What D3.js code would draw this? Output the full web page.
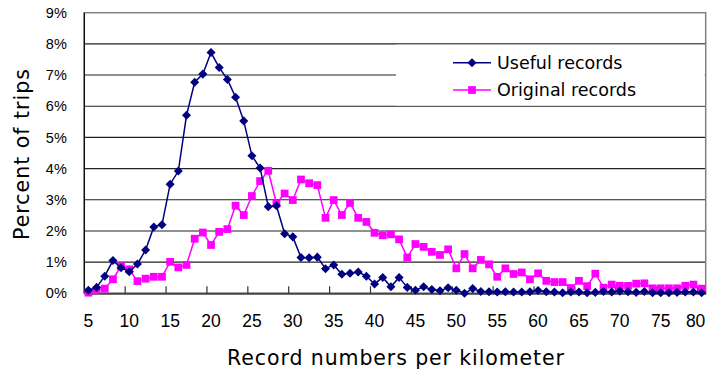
<!DOCTYPE html>
<html>
<head>
<meta charset="utf-8">
<script src="https://cdn.jsdelivr.net/npm/d3@7"></script>
<style>
  body { margin: 0; background: #fff; }
  svg { display: block; font-family: "DejaVu Sans", sans-serif; }
</style>
</head>
<body>
<div id="chart"></div>
<script>
// record numbers per km (categories)
var categories = [5,6,7,8,9,10,11,12,13,14,15,16,17,18,19,20,21,22,23,24,25,26,27,28,29,30,
  31,32,33,34,35,36,37,38,39,40,41,42,43,44,45,46,47,48,49,50,51,52,53,54,55,56,57,58,59,60,
  61,62,63,64,65,66,67,68,69,70,71,72,73,74,75,76,77,78,79,80];

// percent of trips
var useful = [0.10,0.19,0.55,1.05,0.82,0.69,0.94,1.39,2.13,2.20,3.50,3.92,5.71,6.77,7.03,7.72,
  7.24,6.86,6.29,5.53,4.41,4.02,2.78,2.81,1.91,1.81,1.15,1.14,1.16,0.79,0.91,0.61,0.64,0.68,
  0.55,0.30,0.51,0.21,0.51,0.19,0.10,0.21,0.12,0.08,0.18,0.10,0.00,0.15,0.06,0.05,0.04,0.05,
  0.04,0.04,0.05,0.09,0.05,0.04,0.02,0.04,0.04,0.02,0.03,0.06,0.04,0.07,0.05,0.03,0.06,0.02,
  0.02,0.02,0.03,0.04,0.04,0.02];

var original = [0.02,0.10,0.15,0.45,0.87,0.77,0.39,0.47,0.53,0.53,1.01,0.83,0.91,1.75,1.95,1.55,
  1.97,2.06,2.81,2.51,3.12,3.60,3.93,2.88,3.20,2.99,3.65,3.53,3.47,2.42,2.99,2.51,2.90,2.42,
  2.29,1.94,1.86,1.89,1.73,1.15,1.58,1.49,1.33,1.23,1.41,0.80,1.26,0.80,1.07,0.93,0.53,0.80,
  0.62,0.67,0.45,0.64,0.40,0.36,0.36,0.17,0.40,0.23,0.63,0.18,0.28,0.24,0.24,0.31,0.32,0.16,
  0.16,0.16,0.16,0.24,0.28,0.15];

var yTicks = [0,1,2,3,4,5,6,7,8,9];
var xLabels = [5,10,15,20,25,30,35,40,45,50,55,60,65,70,75,80];

var seriesNames = ["Useful records", "Original records"];

var width = 710, height = 376;
var plotL = 84.3, plotR = 705.7, plotT = 12.7, plotB = 293.3;

var svg = d3.select("#chart").append("svg")
    .attr("width", width)
    .attr("height", height);

var x = d3.scaleBand().domain(categories).range([plotL, plotR]).padding(0);
var y = d3.scaleLinear().domain([0, 9]).range([plotB, plotT]);
var bw = x.bandwidth();

// gridlines
svg.append("g").selectAll("line")
  .data(yTicks.filter(function(d){ return d > 0 && d < 9; }))
  .enter().append("line")
    .attr("x1", plotL).attr("x2", plotR)
    .attr("y1", function(d){ return y(d); })
    .attr("y2", function(d){ return y(d); })
    .attr("stroke", "#222")
    .attr("stroke-width", 1.1);

// plot frame
svg.append("rect")
  .attr("x", plotL).attr("y", plotT)
  .attr("width", plotR - plotL).attr("height", plotB - plotT)
  .attr("fill", "none")
  .attr("stroke", "#808080")
  .attr("stroke-width", 1.5);

svg.append("line")
  .attr("x1", plotL).attr("x2", plotL)
  .attr("y1", plotT).attr("y2", plotB)
  .attr("stroke", "#000").attr("stroke-width", 1.2);

// x axis
var xAxis = d3.axisBottom(x)
  .tickValues(xLabels)
  .tickSize(0)
  .tickPadding(21);

var gx = svg.append("g")
  .attr("transform", "translate(0," + plotB + ")")
  .call(xAxis);
gx.select(".domain").attr("stroke", "#444").attr("stroke-width", 2);
gx.selectAll("text")
  .style("font-family", "'Liberation Sans', Arial, sans-serif")
  .style("font-size", "17.5px")
  .attr("fill", "#000");
// last label pulled in so it stays inside the frame
gx.selectAll(".tick").filter(function(d){ return d === 80; })
  .select("text").attr("x", -6);

// tick marks sit on band boundaries, pointing up
svg.append("g").selectAll("line")
  .data(xLabels.filter(function(d){ return d > 5; }))
  .enter().append("line")
    .attr("x1", function(d){ return x(d); })
    .attr("x2", function(d){ return x(d); })
    .attr("y1", plotB).attr("y2", plotB - 7)
    .attr("stroke", "#333").attr("stroke-width", 1.2);

// y axis labels
var yAxis = d3.axisLeft(y)
  .tickValues(yTicks)
  .tickFormat(function(d){ return d + "%"; })
  .tickSize(0)
  .tickPadding(17.5);

var gy = svg.append("g")
  .attr("transform", "translate(" + plotL + ",0)")
  .call(yAxis);
gy.select(".domain").remove();
gy.selectAll("text")
  .style("font-family", "'Liberation Sans', Arial, sans-serif")
  .style("font-size", "14.5px")
  .attr("fill", "#000");

// axis titles
svg.append("text")
  .attr("x", 396).attr("y", 365)
  .attr("text-anchor", "middle")
  .style("font-size", "20.5px")
  .style("letter-spacing", "0.9px")
  .text("Record numbers per kilometer");

svg.append("text")
  .attr("transform", "translate(29,154) rotate(-90)")
  .attr("text-anchor", "middle")
  .style("font-size", "20.5px")
  .style("letter-spacing", "1px")
  .text("Percent of trips");

// legend box hides the 7% gridline
svg.append("rect")
  .attr("x", 396).attr("y", y(8) + 0.8)
  .attr("width", plotR - 396 - 1).attr("height", y(6) - y(8) - 1.6)
  .attr("fill", "#fff");

function cx(d, i){ return x(categories[i]) + bw / 2; }

var diamond = d3.symbol().type(d3.symbolDiamond2).size(52);
var square = d3.symbol().type(d3.symbolSquare).size(60);

var line = d3.line()
  .x(function(d, i){ return cx(d, i); })
  .y(function(d){ return y(d); });

// original records (magenta)
svg.append("path")
  .datum(original)
  .attr("d", line)
  .attr("fill", "none")
  .attr("stroke", "#ff00ff")
  .attr("stroke-width", 1.5);

svg.append("g").selectAll("path")
  .data(original)
  .enter().append("path")
    .attr("d", square)
    .attr("transform", function(d, i){ return "translate(" + cx(d, i) + "," + y(d) + ")"; })
    .attr("fill", "#ff00ff");

// useful records (navy)
svg.append("path")
  .datum(useful)
  .attr("d", line)
  .attr("fill", "none")
  .attr("stroke", "#000080")
  .attr("stroke-width", 1.5);

svg.append("g").selectAll("path")
  .data(useful)
  .enter().append("path")
    .attr("d", diamond)
    .attr("transform", function(d, i){ return "translate(" + cx(d, i) + "," + y(d) + ")"; })
    .attr("fill", "#000080");

// legend
var legendColors = ["#000080", "#ff00ff"];
var legendSymbols = [diamond, square];
var lg = svg.append("g").selectAll("g")
  .data(seriesNames)
  .enter().append("g")
    .attr("transform", function(d, i){ return "translate(0," + (62.7 + i * 27.3) + ")"; });

lg.append("line")
  .attr("x1", 453).attr("x2", 491)
  .attr("stroke", function(d, i){ return legendColors[i]; })
  .attr("stroke-width", 1.5);
lg.append("path")
  .attr("d", function(d, i){ return legendSymbols[i](); })
  .attr("transform", "translate(472,0)")
  .attr("fill", function(d, i){ return legendColors[i]; });
lg.append("text")
  .attr("x", 497).attr("dy", "0.36em")
  .style("font-size", "17.5px")
  .text(function(d){ return d; });
</script>
</body>
</html>
